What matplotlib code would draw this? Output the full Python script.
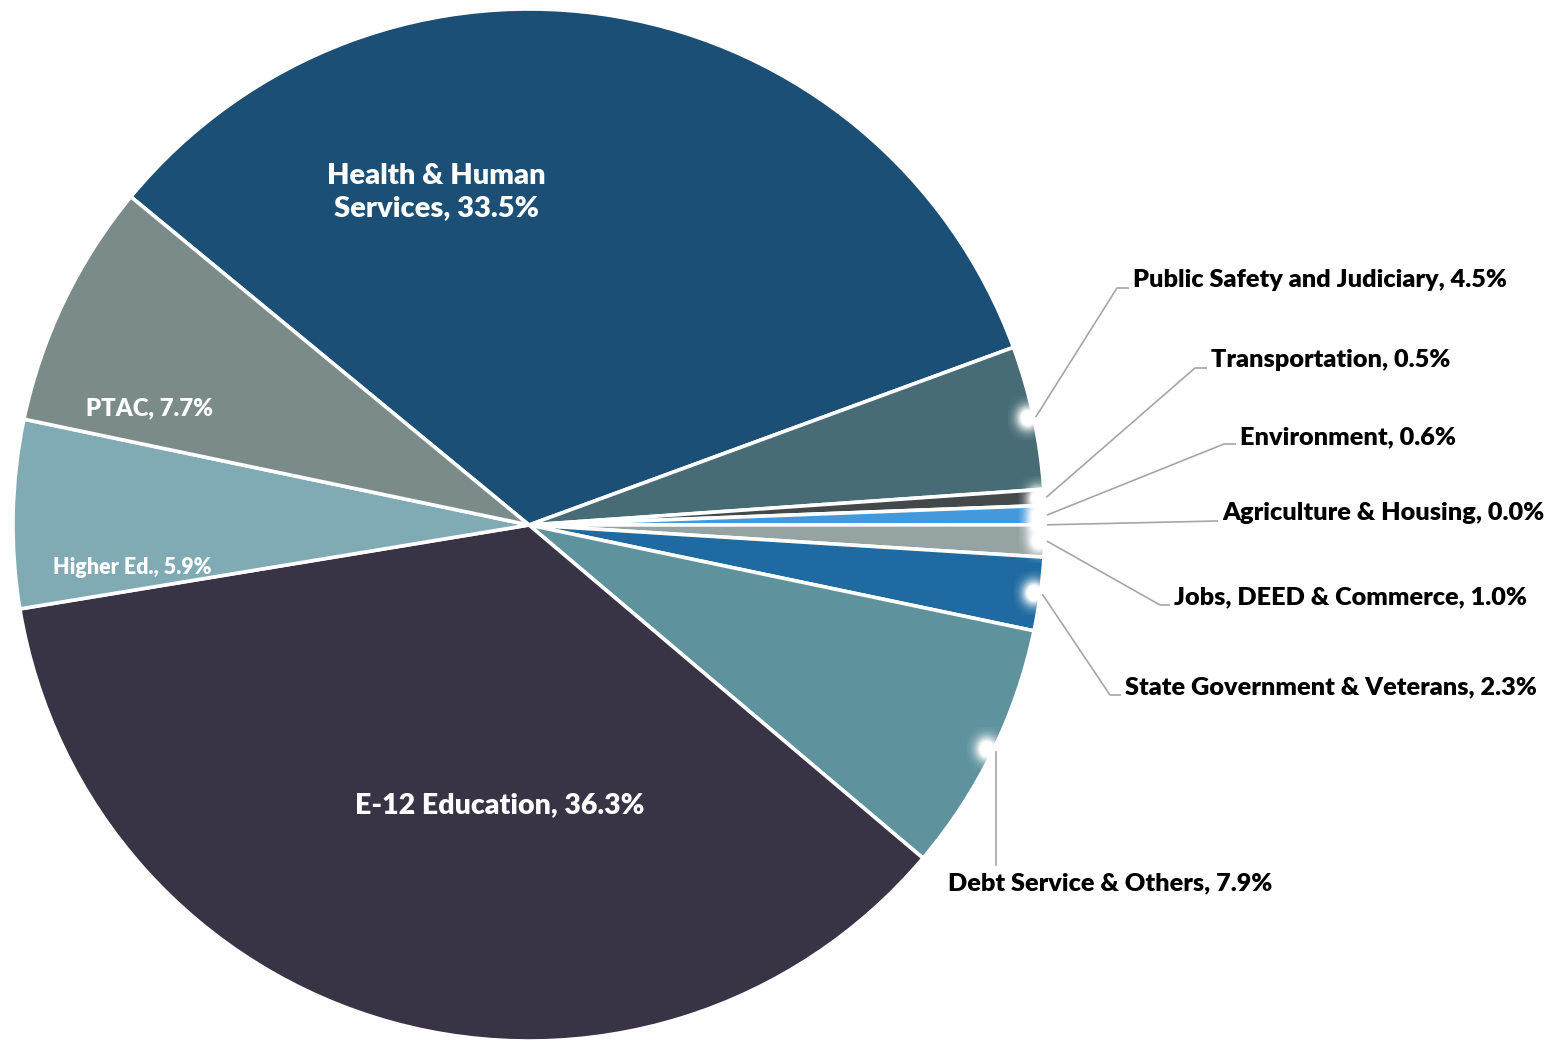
import numpy as np
import matplotlib
matplotlib.use("Agg")
import matplotlib.pyplot as plt

plt.rcParams["font.family"] = ["Lato", "DejaVu Sans"]

# General fund spending by area, % of total
categories = [
    "Health & Human Services",
    "Public Safety and Judiciary",
    "Transportation",
    "Environment",
    "Agriculture & Housing",
    "Jobs, DEED & Commerce",
    "State Government & Veterans",
    "Debt Service & Others",
    "E-12 Education",
    "Higher Ed.",
    "PTAC",
]
shares = [33.5, 4.5, 0.5, 0.6, 0.0, 1.0, 2.3, 7.9, 36.3, 5.9, 7.7]
colors = [
    "#1b4f75", "#476c75", "#43484b", "#4499dc", "#c7d3d8", "#95a3a3",
    "#1f6aa0", "#5e929d", "#383446", "#80aab4", "#7a8b8a",
]

W, H = 1554, 1041
CX, CY, R = 529, H - 525, 516
OUT_SIZE = 18.2
WEIGHT = "heavy"

fig = plt.figure(figsize=(W / 100, H / 100), dpi=100)
ax = fig.add_axes([0, 0, 1, 1])
wedges, _ = ax.pie(
    shares, colors=colors, startangle=140.5, counterclock=False,
    center=(CX, CY), radius=R, frame=True,
    wedgeprops=dict(edgecolor="white", linewidth=2.6),
)

# gaussian white halo sprite
g = np.linspace(-1, 1, 61)
gx, gy = np.meshgrid(g, g)
halo = np.ones((61, 61, 4))
halo[..., 3] = np.clip(1.5 * np.exp(-(gx ** 2 + gy ** 2) / 0.3), 0, 1)


def label(i):
    return f"{categories[i]}, {shares[i]:.1f}%"


def glow(i):
    # soft white halo where a leader line meets its slice
    w = wedges[i]
    mid = np.deg2rad((w.theta1 + w.theta2) / 2)
    sx, sy = CX + R * np.cos(mid), CY + R * np.sin(mid)
    hx, hy = sx - 6 * np.cos(mid), sy - 6 * np.sin(mid)
    ax.imshow(halo, extent=(hx - 20, hx + 20, hy - 22, hy + 22),
              interpolation="bilinear", zorder=3)
    return sx, sy


# labels printed inside the big slices: (index, x, y, size, text)
inside = [
    (0, 436, 192, 21.0, "Health & Human\nServices, 33.5%"),
    (8, 500, 805, 20.5, label(8)),
    (10, 150, 408, 17.2, label(10)),
    (9, 132, 567, 15.5, label(9)),
]
for i, x, y, size, txt in inside:
    ax.text(x, H - y, txt, color="white", fontsize=size, fontweight=WEIGHT,
            ha="center", va="center", linespacing=1.32)

# outside labels with elbow leaders: (index, elbow x, elbow y, text x, text y)
outside = [
    (1, 1117, 288, 1133, 280),
    (2, 1195, 368, 1211, 360),
    (3, 1224, 444, 1240, 437),
    (4, 1217, 521, 1222, 513),
    (5, 1160, 605, 1174, 597),
    (6, 1110, 695, 1125, 687),
]
for i, ex, ey, tx, ty in outside:
    sx, sy = glow(i)
    ax.plot([sx + 2, ex, tx - 4], [sy, H - ey, H - ey],
            color="#a6a6a6", lw=1.2, solid_capstyle="butt", zorder=4)
    ax.text(tx, H - ty, label(i), fontsize=OUT_SIZE, fontweight=WEIGHT,
            color="black", ha="left", va="center")

# debt service label sits below its slice
glow(7)
ax.plot([996, 996], [H - 752, H - 865], color="#a6a6a6", lw=1.2, zorder=4)
ax.text(1110, H - 883, label(7), fontsize=OUT_SIZE, fontweight=WEIGHT,
        color="black", ha="center", va="center")

ax.set_xlim(0, W)
ax.set_ylim(0, H)
ax.set_aspect("equal")
ax.axis("off")

fig.savefig("out.png", dpi=100, facecolor="white")
